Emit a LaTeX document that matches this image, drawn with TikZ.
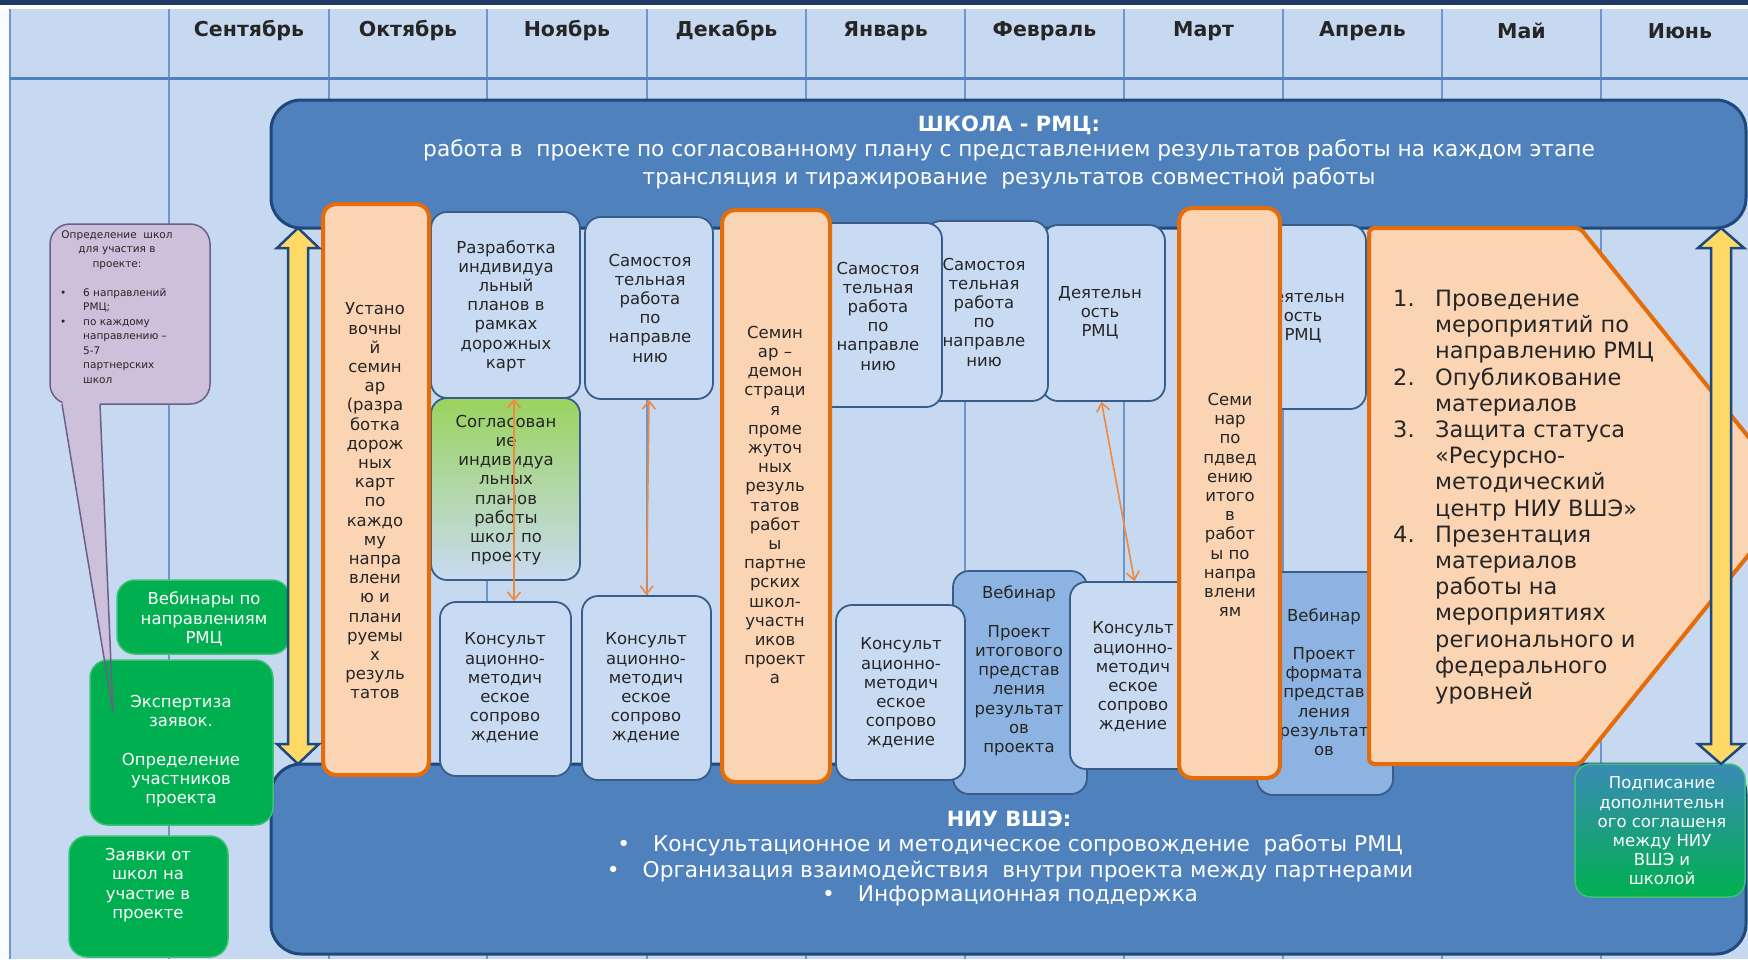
\documentclass[tikz,border=0pt]{standalone}
\usepackage{fontspec}
\setmainfont{DejaVu Sans}
\usetikzlibrary{arrows.meta}
\definecolor{bg}{HTML}{C6D9F1}
\definecolor{navy}{HTML}{1F3864}
\definecolor{midblue}{HTML}{4F81BD}
\definecolor{boxborder}{HTML}{385D8A}
\definecolor{darkline}{HTML}{1F497D}
\definecolor{lightbox}{HTML}{C9DBF2}
\definecolor{webfill}{HTML}{8DB3E2}
\definecolor{peach}{HTML}{FBD4B4}
\definecolor{orng}{HTML}{E46C0A}
\definecolor{oarr}{HTML}{F0883E}
\definecolor{grn}{HTML}{00B050}
\definecolor{grnline}{HTML}{3CC078}
\definecolor{lav}{HTML}{CCC0DA}
\definecolor{lavline}{HTML}{6E5E8A}
\definecolor{yel}{HTML}{FFD966}
\definecolor{txt}{HTML}{262626}
\definecolor{colline}{HTML}{6F96C8}
\definecolor{tealc}{HTML}{3A8BB5}
\definecolor{greenish}{HTML}{9AD35E}
\tikzset{
  lbox/.style={draw=boxborder, line width=1.8pt, fill=lightbox, rounded corners=16pt, inner sep=0pt},
  wbox/.style={lbox, fill=webfill},
  obox/.style={draw=orng, line width=4pt, fill=peach, rounded corners=13pt, inner sep=0pt},
  gbox/.style={draw=grnline, line width=1.5pt, fill=grn, rounded corners=18pt, inner sep=0pt},
  bigbox/.style={draw=darkline, line width=3pt, fill=midblue, rounded corners=30pt, inner sep=0pt},
  tx/.style={inner sep=0pt, align=center, text=txt, font=\fontsize{16.5}{19.2}\selectfont},
  wtx/.style={tx, text=white},
  btx/.style={inner sep=0pt, text=white, font=\fontsize{21.7}{26}\selectfont},
  bttl/.style={inner sep=0pt, text=white, font=\bfseries\fontsize{21}{24}\selectfont},
  month/.style={inner sep=0pt, text=txt, font=\bfseries\fontsize{20.5}{23}\selectfont},
  oarrow/.style={draw=oarr, line width=1.6pt, {Straight Barb[length=8pt,width=13pt]}-{Straight Barb[length=8pt,width=13pt]}},
  yarrow/.style={draw=darkline, line width=2.5pt, fill=yel, line join=miter},
}
\begin{document}
\begin{tikzpicture}[x=1pt,y=-1pt]
\clip (0,0) rectangle (1748,959);
\useasboundingbox (0,0) rectangle (1748,959);
% background
\fill[bg] (0,0) rectangle (1748,959);
\fill[white!90!bg] (0,0) rectangle (9,959);
\fill[navy] (0,0) rectangle (1748,5);
\fill[white] (0,5) rectangle (1748,9);
\foreach \x in {10,169,329,487,647,806,965,1124,1283,1442,1601}
  \draw[colline, line width=1.5pt] (\x,9) -- (\x,959);
\draw[midblue, line width=3pt] (10,78) -- (1748,78);
% months
\node[month] (m1) at (249,31) {Сентябрь};
\node[month] (m2) at (408,31) {Октябрь};
\node[month] (m3) at (567,31) {Ноябрь};
\node[month] (m4) at (726.5,31) {Декабрь};
\node[month] (m5) at (885.5,31) {Январь};
\node[month] (m6) at (1044.5,31) {Февраль};
\node[month] (m7) at (1203.5,31) {Март};
\node[month] (m8) at (1362.5,31) {Апрель};
\node[month] (m9) at (1521.5,31) {Май};
\node[month] (m10) at (1680,31) {Июнь};
% big boxes
\node[bigbox, minimum width=1475pt, minimum height=128pt] (shkola) at (1008.5,164) {};
\node[bttl] (shk1) at (1009,125) {ШКОЛА - РМЦ:};
\node[btx] (shk2) at (1009,150) {работа в\ \ проекте по согласованному плану с представлением результатов работы на каждом этапе};
\node[btx] (shk3) at (1009,178) {трансляция и тиражирование\ \ результатов совместной работы};
\node[bigbox, minimum width=1475pt, minimum height=190pt] (niu) at (1008.5,859) {};
\node[bttl] (niu1) at (1009,819) {НИУ ВШЭ:};
\node[btx] (niu2) at (1010,845) {•\hspace{23pt}Консультационное и методическое сопровождение\ \ работы РМЦ};
\node[btx] (niu3) at (1010,871) {•\hspace{23pt}Организация взаимодействия\ \ внутри проекта между партнерами};
\node[btx] (niu4) at (1010,896) {•\hspace{23pt}Информационная поддержка};
% purple callout
\node[draw=lavline, line width=1.5pt, fill=lav, rounded corners=20pt, minimum width=160pt, minimum height=180pt, inner sep=0pt] (call) at (130,314) {};
\fill[lav] (62,398) -- (113,712) -- (100,398) -- cycle;
\node[tx, font=\fontsize{10.5}{14.5}\selectfont] (callt) at (117,250) {Определение\ \ школ\\для участия в\\проекте:};
\node[anchor=north west, inner sep=0pt, text=txt, font=\fontsize{10.5}{14.5}\selectfont] (calll) at (60,286) {\begin{tabular}{@{}l@{}l@{}}\makebox[23pt][l]{•}&6 направлений\\&РМЦ;\\\makebox[23pt][l]{•}&по каждому\\&направлению –\\&5-7\\&партнерских\\&школ\end{tabular}};
% green boxes
\node[gbox, minimum width=173pt, minimum height=74pt] (web) at (203.5,617) {};
\node[wtx] (webt) at (204,619) {Вебинары по\\направлениям\\РМЦ};
\node[gbox, minimum width=183pt, minimum height=165pt] (exp) at (181.5,742.5) {};
\node[wtx] (expt) at (181,751) {Экспертиза\\заявок.\\[19.2pt]Определение\\участников\\проекта};
\node[gbox, minimum width=159pt, minimum height=121pt] (zay) at (148.5,896.5) {};
\node[wtx] (zayt) at (148,885) {Заявки от\\школ на\\участие в\\проекте};
\node[draw=grnline, line width=1.5pt, top color=tealc, bottom color=grn, rounded corners=16pt, minimum width=170pt, minimum height=133pt, inner sep=0pt] (podp) at (1660,830.5) {};
\node[wtx] (podpt) at (1662,831) {Подписание\\дополнительн\\ого соглашеня\\между НИУ\\ВШЭ и\\школой};
\draw[lavline, line width=1.5pt] (62,404) -- (113,712) -- (100,404);
% top row boxes
\node[lbox, top color=greenish, middle color=lightbox, bottom color=lightbox, minimum width=149pt, minimum height=182pt] (b2) at (505.5,489) {};
\node[tx] (b2t) at (506,490) {Согласован\\ие\\индивидуа\\льных\\планов\\работы\\школ по\\проекту};
\node[lbox, minimum width=149pt, minimum height=186pt] (b1) at (505.5,305) {};
\node[tx] (b1t) at (506,306) {Разработка\\индивидуа\\льный\\планов в\\рамках\\дорожных\\карт};
\node[lbox, minimum width=128pt, minimum height=182pt] (b3) at (649,308) {};
\node[tx] (b3t) at (650,308) {Самостоя\\тельная\\работа\\по\\направле\\нию};
\node[lbox, minimum width=123pt, minimum height=176pt] (b6) at (1103.5,313) {};
\node[tx] (b6t) at (1100,313) {Деятельн\\ость\\РМЦ};
\node[lbox, minimum width=123pt, minimum height=180pt] (b5) at (986.5,311) {};
\node[tx] (b5t) at (984,312) {Самостоя\\тельная\\работа\\по\\направле\\нию};
\node[lbox, minimum width=128pt, minimum height=184pt] (b4) at (878,315) {};
\node[tx] (b4t) at (878,316) {Самостоя\\тельная\\работа\\по\\направле\\нию};
\node[lbox, minimum width=129pt, minimum height=184pt] (b7) at (1301.5,317) {};
\node[tx] (b7t) at (1303,317) {Деятельн\\ость\\РМЦ};
% bottom row boxes
\node[wbox, minimum width=134pt, minimum height=223pt] (w1) at (1020,682.5) {};
\node[tx] (w1t) at (1019,671) {Вебинар\\[19.2pt]Проект\\итогового\\представ\\ления\\результат\\ов\\проекта};
\node[lbox, minimum width=129pt, minimum height=175pt] (c3) at (900.5,692.5) {};
\node[tx] (c3t) at (901,693) {Консульт\\ационно-\\методич\\еское\\сопрово\\ждение};
\node[lbox, minimum width=131pt, minimum height=174pt] (c1) at (505.5,689) {};
\node[tx] (c1t) at (505,688) {Консульт\\ационно-\\методич\\еское\\сопрово\\ждение};
\node[lbox, minimum width=129pt, minimum height=184pt] (c2) at (646.5,688) {};
\node[tx] (c2t) at (646,688) {Консульт\\ационно-\\методич\\еское\\сопрово\\ждение};
\node[lbox, minimum width=123pt, minimum height=187pt] (c4) at (1131.5,675.5) {};
\node[tx] (c4t) at (1133,677) {Консульт\\ационно-\\методич\\еское\\сопрово\\ждение};
\node[wbox, minimum width=136pt, minimum height=223pt] (w2) at (1325,683.5) {};
\node[tx] (w2t) at (1324,682) {Вебинар\\[19.2pt]Проект\\формата\\представ\\ления\\результат\\ов};
% orange boxes
\node[obox, minimum width=106pt, minimum height=571pt] (oa) at (376,489.5) {};
\node[tx] (oat) at (375,501) {Устано\\вочны\\й\\семин\\ар\\(разра\\ботка\\дорож\\ных\\карт\\по\\каждо\\му\\напра\\влени\\ю и\\плани\\руемы\\х\\резуль\\татов};
\node[obox, minimum width=108pt, minimum height=572pt] (ob) at (776,496) {};
\node[tx] (obt) at (775,505) {Семин\\ар –\\демон\\страци\\я\\проме\\жуточ\\ных\\резуль\\татов\\работ\\ы\\партне\\рских\\школ-\\участн\\иков\\проект\\а};
\node[obox, minimum width=101pt, minimum height=570pt] (oc) at (1229.5,493) {};
\node[tx] (oct) at (1230,505) {Семи\\нар\\по\\пдвед\\ению\\итого\\в\\работ\\ы по\\напра\\влени\\ям};
% pentagon
\draw[draw=orng, line width=4pt, fill=peach, rounded corners=5pt] (1369,228) -- (1580,228) -- (1796,496) -- (1580,764) -- (1369,764) -- cycle;
\node[anchor=north west, inner sep=0pt, text=txt, font=\fontsize{22.5}{26.2}\selectfont] (plist) at (1393,288) {\begin{tabular}{@{}l@{}l@{}}\makebox[42pt][l]{1.}&Проведение\\&мероприятий по\\&направлению РМЦ\\2.&Опубликование\\&материалов\\3.&Защита статуса\\&«Ресурсно-\\&методический\\&центр НИУ ВШЭ»\\4.&Презентация\\&материалов\\&работы на\\&мероприятиях\\&регионального и\\&федерального\\&уровней\end{tabular}};
% yellow double arrows
\draw[yarrow] (298,228) -- (319,248) -- (308,248) -- (308,744) -- (319,744) -- (298,764) -- (277,744) -- (288,744) -- (288,248) -- (277,248) -- cycle;
\draw[yarrow] (1721,228) -- (1744,248) -- (1731,248) -- (1731,744) -- (1744,744) -- (1721,764) -- (1698,744) -- (1711,744) -- (1711,248) -- (1698,248) -- cycle;
% orange connectors
\coordinate (a1x) at (514,0);
\draw[oarrow] (b1.south -| a1x) -- (c1.north -| a1x);
\draw[oarrow] (b3.south) -- (c2.north);
\draw[oarrow] ([xshift=-2pt]b6.south) -- ([xshift=3pt]c4.north);
\end{tikzpicture}
\end{document}
